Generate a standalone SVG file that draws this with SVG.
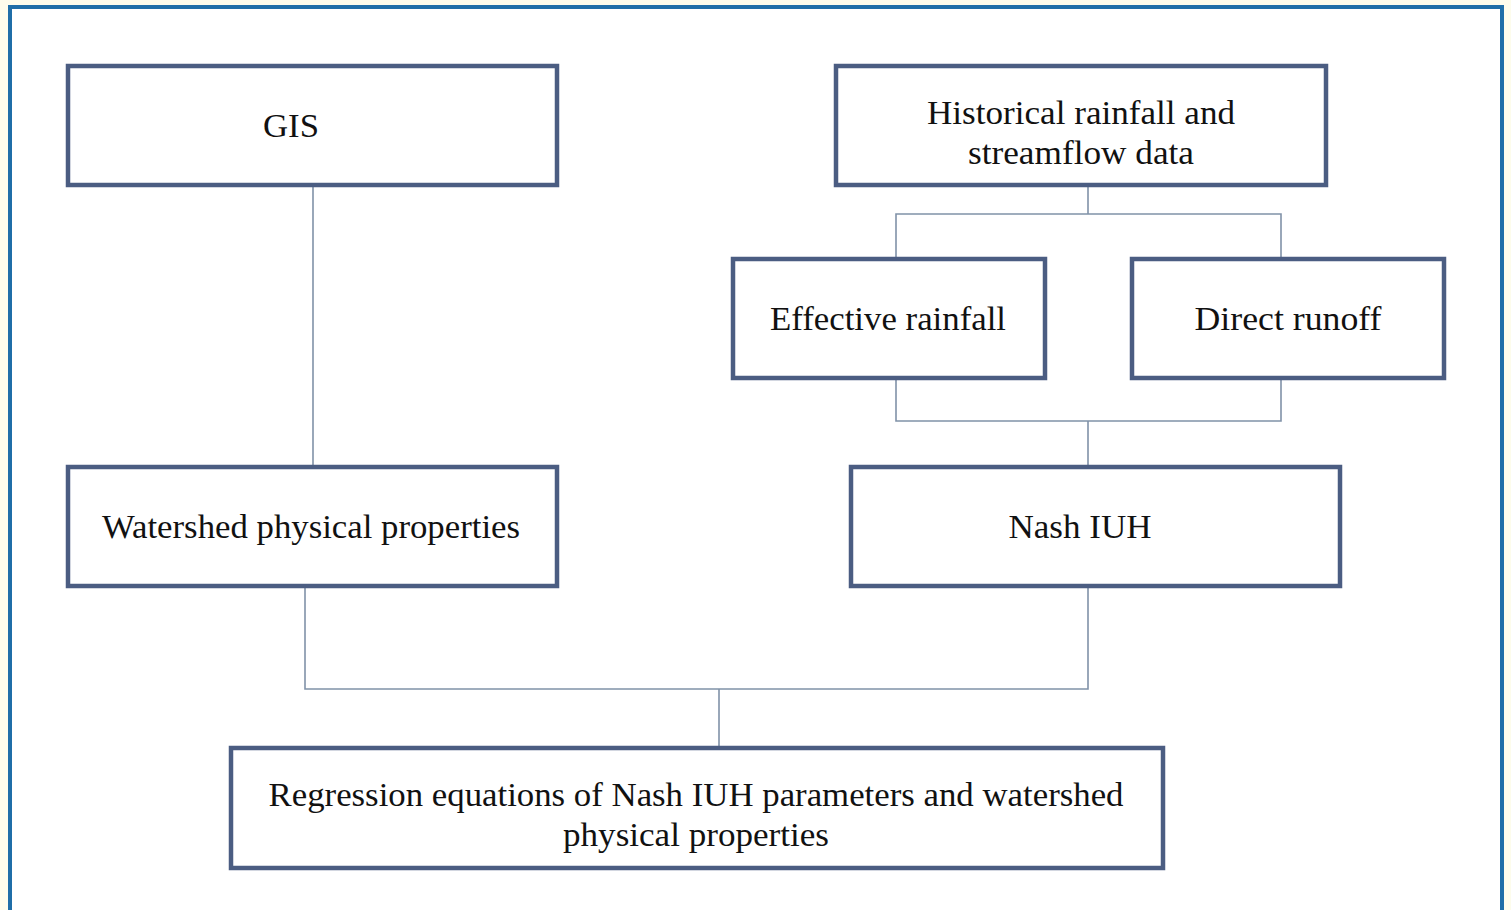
<svg xmlns="http://www.w3.org/2000/svg" width="1511" height="910" viewBox="0 0 1511 910">
<style>
.box{fill:#ffffff;stroke:#4b5d82;stroke-width:4.5}
.t{font-family:"Liberation Serif","Times New Roman",serif;font-size:34px;fill:#111;text-anchor:middle}
.c{fill:none;stroke:#8092a8;stroke-width:1.6}
</style>
<rect x="0" y="0" width="1511" height="910" fill="#fdfcec"/>
<rect x="10" y="7" width="1492" height="910" fill="#ffffff" stroke="#1f6ea8" stroke-width="4"/>
<g id="connectors">
<path class="c" d="M313 185V467"/>
<path class="c" d="M1088 185V214M896 259V214H1281V259"/>
<path class="c" d="M896 378V421H1281V378M1088 421V467"/>
<path class="c" d="M305 586V689H1088V586M719 689V748"/>
</g>
<g id="gis"><rect class="box" x="68" y="66" width="489" height="119"/><text class="t" x="291" y="137" textLength="56" lengthAdjust="spacingAndGlyphs">GIS</text></g>
<g id="historical"><rect class="box" x="836" y="66" width="490" height="119"/><text class="t" x="1081" y="124" textLength="308" lengthAdjust="spacingAndGlyphs">Historical rainfall and</text><text class="t" x="1081" y="164" textLength="226" lengthAdjust="spacingAndGlyphs">streamflow data</text></g>
<g id="effective"><rect class="box" x="733" y="259" width="312" height="119"/><text class="t" x="888" y="330" textLength="236" lengthAdjust="spacingAndGlyphs">Effective rainfall</text></g>
<g id="direct"><rect class="box" x="1132" y="259" width="312" height="119"/><text class="t" x="1288" y="330" textLength="187" lengthAdjust="spacingAndGlyphs">Direct runoff</text></g>
<g id="watershed"><rect class="box" x="68" y="467" width="489" height="119"/><text class="t" x="311" y="538" textLength="418" lengthAdjust="spacingAndGlyphs">Watershed physical properties</text></g>
<g id="nash"><rect class="box" x="851" y="467" width="489" height="119"/><text class="t" x="1080" y="538" textLength="143" lengthAdjust="spacingAndGlyphs">Nash IUH</text></g>
<g id="regression"><rect class="box" x="231" y="748" width="932" height="120"/><text class="t" x="696" y="806" textLength="855" lengthAdjust="spacingAndGlyphs">Regression equations of Nash IUH parameters and watershed</text><text class="t" x="696" y="846" textLength="266" lengthAdjust="spacingAndGlyphs">physical properties</text></g>
</svg>
